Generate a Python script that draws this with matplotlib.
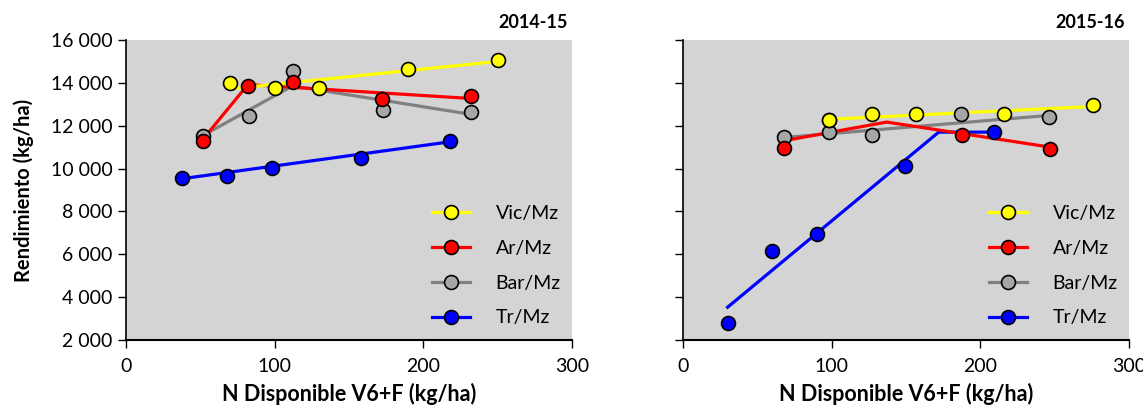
import matplotlib.pyplot as plt
from matplotlib.ticker import FuncFormatter

# ---- 2014-15 ----
vic_x_1 = [70, 100, 130, 190, 250]
vic_y_1 = [14000, 13780, 13780, 14630, 15060]
ar_x_1 = [52, 82, 112, 172, 232]
ar_y_1 = [11310, 13840, 14030, 13250, 13410]
bar_x_1 = [52, 83, 112, 173, 232]
bar_y_1 = [11500, 12440, 14560, 12720, 12640]
tr_x_1 = [38, 68, 98, 158, 218]
tr_y_1 = [9545, 9640, 10015, 10515, 11280]

# fitted lines (breakpoints)
vic_fit_x_1 = [70, 250]
vic_fit_y_1 = [13720, 15000]
ar_fit_x_1 = [52, 82, 232]
ar_fit_y_1 = [11390, 13920, 13270]
bar_fit_x_1 = [52, 112, 232]
bar_fit_y_1 = [11550, 13860, 12530]
tr_fit_x_1 = [38, 218]
tr_fit_y_1 = [9530, 11250]

# ---- 2015-16 ----
vic_x_2 = [98, 127, 157, 216, 276]
vic_y_2 = [12250, 12530, 12560, 12560, 12970]
ar_x_2 = [68, 98, 188, 247]
ar_y_2 = [10970, 12250, 11550, 10920]
bar_x_2 = [68, 98, 127, 187, 246]
bar_y_2 = [11470, 11700, 11590, 12560, 12400]
tr_x_2 = [30, 60, 90, 149, 209]
tr_y_2 = [2800, 6150, 6940, 10140, 11700]

vic_fit_x_2 = [98, 276]
vic_fit_y_2 = [12300, 12900]
ar_fit_x_2 = [68, 137, 247]
ar_fit_y_2 = [11300, 12170, 11000]
bar_fit_x_2 = [68, 246]
bar_fit_y_2 = [11450, 12480]
tr_fit_x_2 = [30, 172, 209]
tr_fit_y_2 = [3530, 11700, 11700]

names = ["Vic/Mz", "Ar/Mz", "Bar/Mz", "Tr/Mz"]
line_colors = ["#ffff00", "#ff0000", "#808080", "#0000ff"]
marker_colors = ["#ffff00", "#ff0000", "#a6a6a6", "#0000ff"]
titles = ["2014-15", "2015-16"]

panels = [
    [(vic_x_1, vic_y_1, vic_fit_x_1, vic_fit_y_1),
     (ar_x_1, ar_y_1, ar_fit_x_1, ar_fit_y_1),
     (bar_x_1, bar_y_1, bar_fit_x_1, bar_fit_y_1),
     (tr_x_1, tr_y_1, tr_fit_x_1, tr_fit_y_1)],
    [(vic_x_2, vic_y_2, vic_fit_x_2, vic_fit_y_2),
     (ar_x_2, ar_y_2, ar_fit_x_2, ar_fit_y_2),
     (bar_x_2, bar_y_2, bar_fit_x_2, bar_fit_y_2),
     (tr_x_2, tr_y_2, tr_fit_x_2, tr_fit_y_2)],
]

plt.rcParams["font.family"] = ["Lato", "DejaVu Sans"]

W, H = 1143, 407
fig = plt.figure(figsize=(W / 100, H / 100), dpi=100)

lefts = [126, 683]
fmt = FuncFormatter(lambda v, p: f"{int(v):,}".replace(",", " "))

for i, series in enumerate(panels):
    ax = fig.add_axes([lefts[i] / W, 1 - 340 / H, 446 / W, 300 / H])
    ax.set_facecolor("#d4d4d4")
    handles = []
    for k in [3, 2, 1, 0]:
        px, py, fx, fy = series[k]
        ax.plot(fx, fy, color=line_colors[k], lw=2.3, zorder=2)
        ax.plot(px, py, "o", ms=10, mfc=marker_colors[k], mec="black",
                mew=1.2, zorder=3)
    for k in range(4):
        h, = ax.plot([], [], "-o", color=line_colors[k], lw=2.3, ms=10,
                     mfc=marker_colors[k], mec="black", mew=1.2)
        handles.append(h)
    ax.set_xlim(0, 300)
    ax.set_ylim(2000, 16000)
    ax.set_xticks([0, 100, 200, 300])
    ax.set_yticks(range(2000, 16001, 2000))
    ax.yaxis.set_major_formatter(fmt)
    for s in ["top", "right"]:
        ax.spines[s].set_visible(False)
    ax.spines["left"].set_linewidth(1.2)
    ax.spines["bottom"].set_linewidth(1.5)
    ax.tick_params(direction="out", length=6, width=1, labelsize=14)
    ax.tick_params(axis="x", pad=7)
    if i == 1:
        ax.tick_params(axis="y", labelleft=False)
    else:
        ax.set_ylabel("Rendimiento (kg/ha)", fontsize=14.5, fontweight="bold",
                      labelpad=12)
    ax.set_xlabel("N Disponible V6+F (kg/ha)", fontsize=15.5,
                  fontweight="bold", labelpad=6)
    ax.text(0.99, 1.03, titles[i], transform=ax.transAxes, ha="right",
            va="bottom", fontsize=13, fontweight="bold")
    ax.legend(handles, names, loc="lower left", bbox_to_anchor=(0.685, 0.045),
              frameon=False, fontsize=14, handlelength=2.0,
              handletextpad=1.3, labelspacing=0.92, borderpad=0,
              borderaxespad=0)

fig.savefig("out.png", dpi=100)
